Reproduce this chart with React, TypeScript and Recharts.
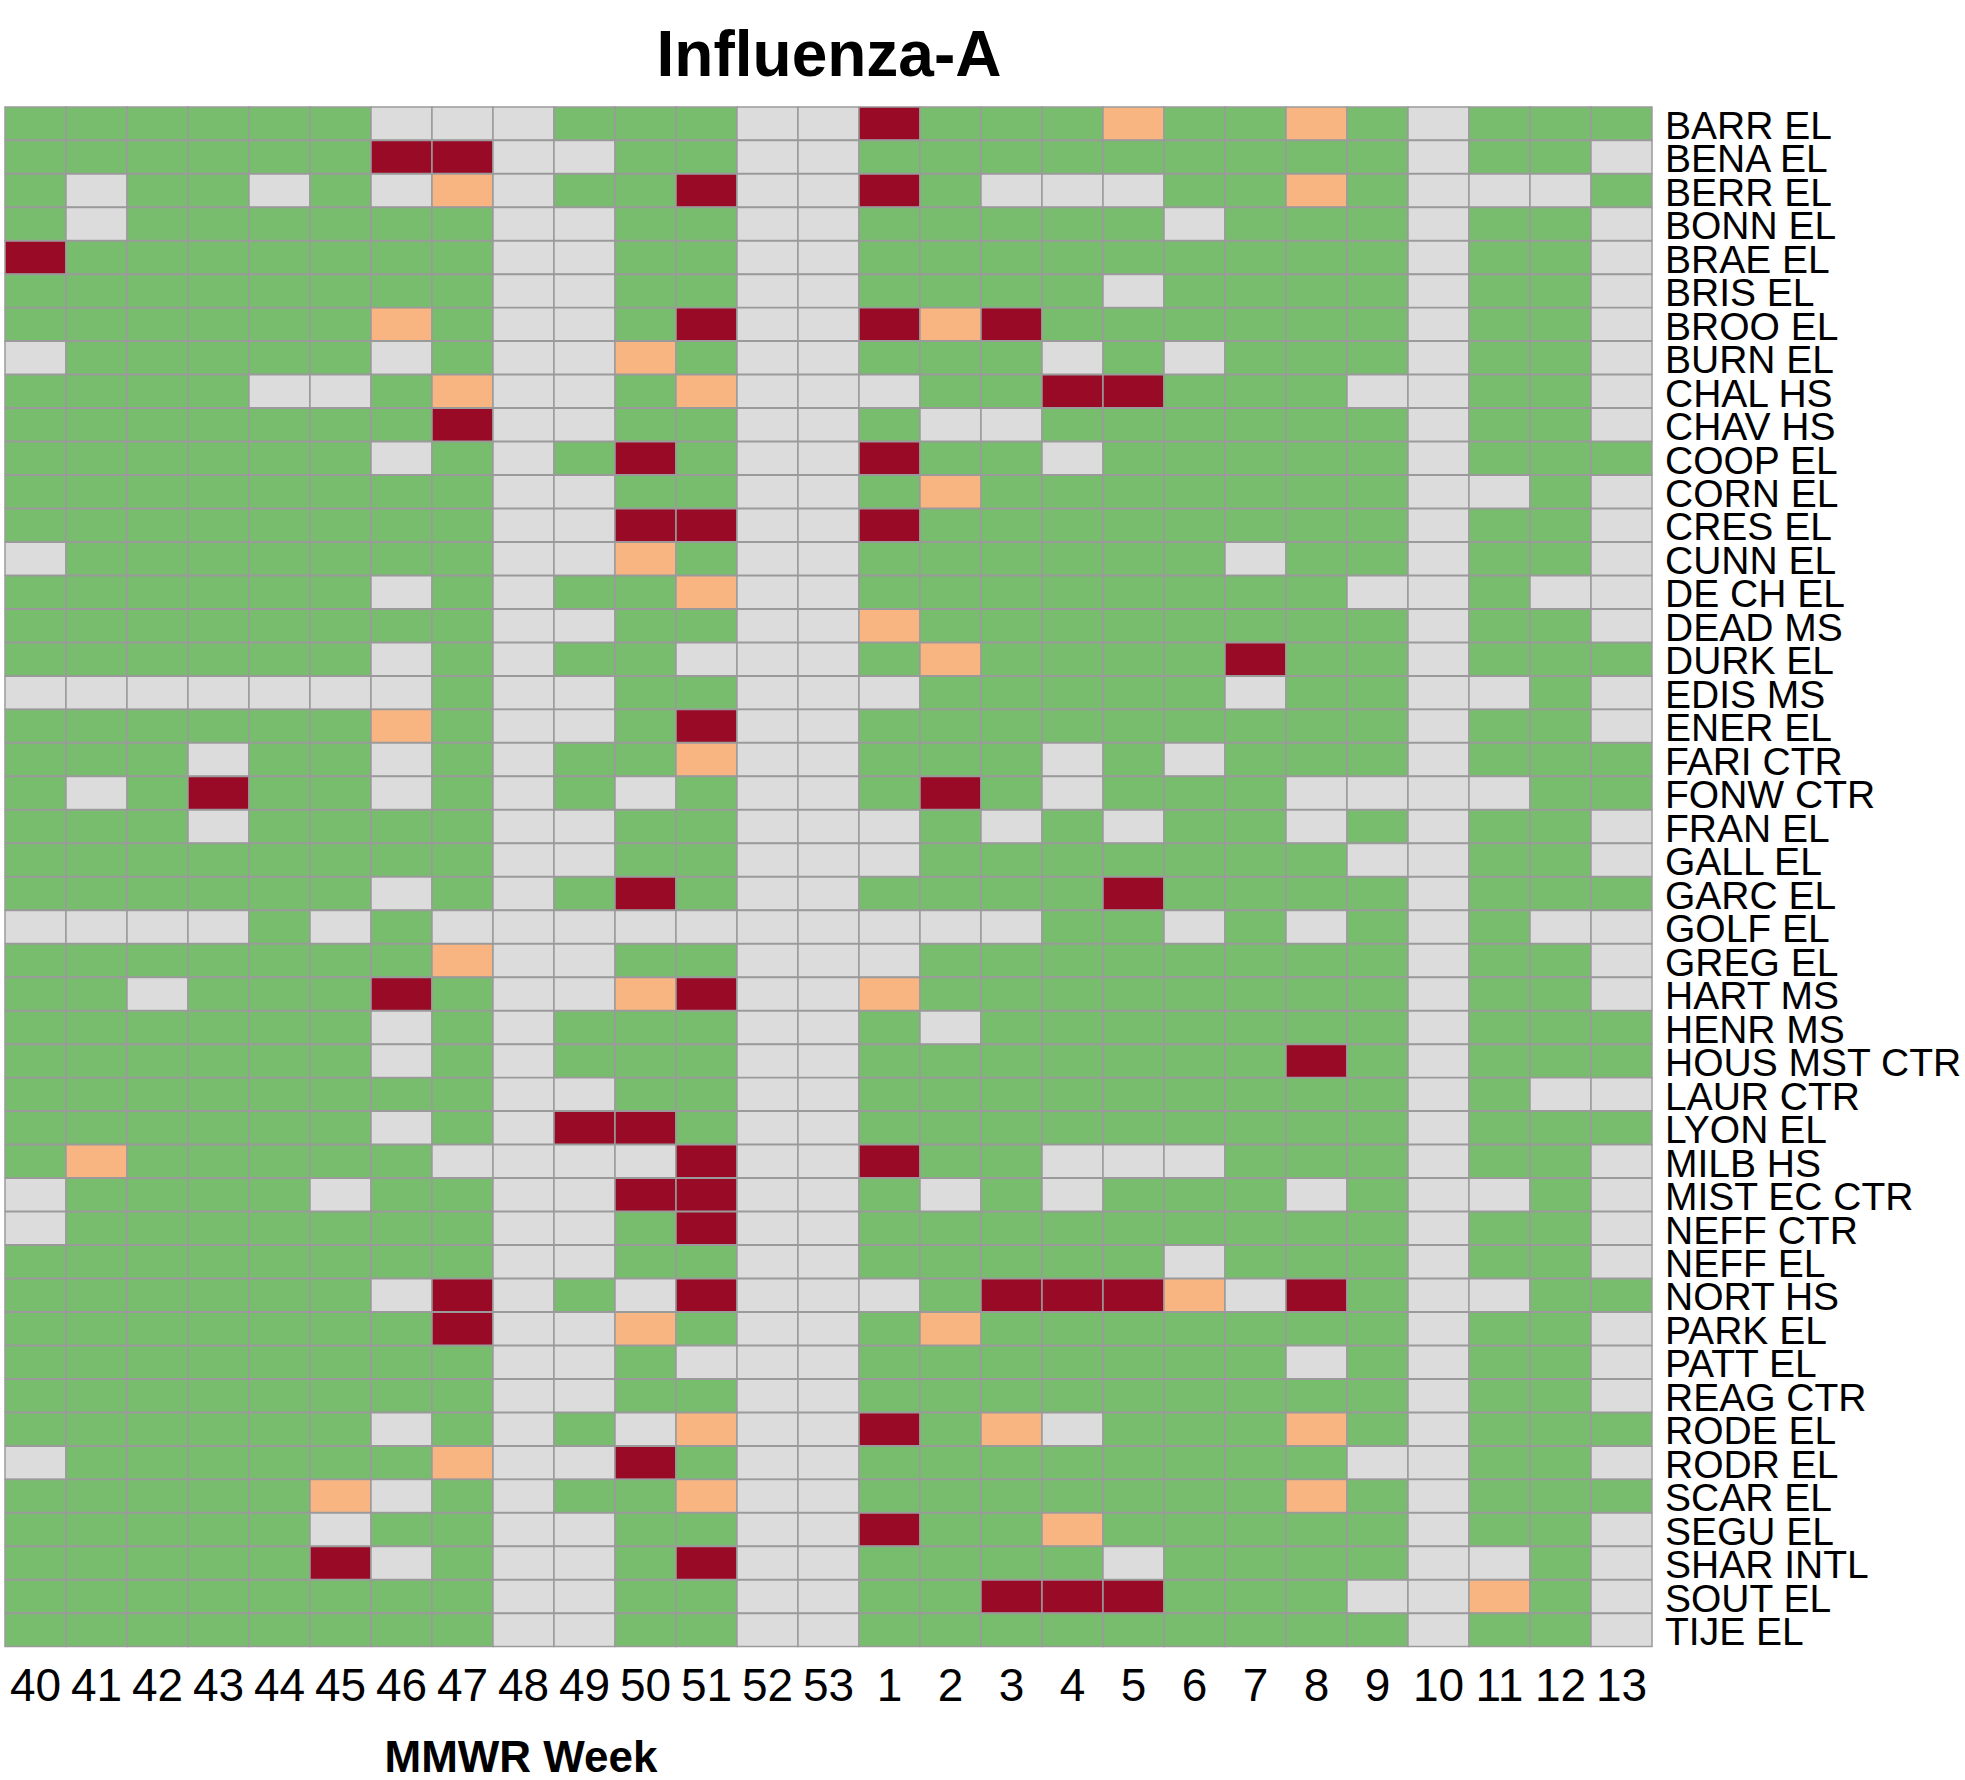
import { Bar, BarChart, Cell, XAxis, YAxis } from "recharts";

const weeks = [
  "40", "41", "42", "43", "44", "45", "46", "47", "48", "49", "50", "51", "52", "53",
  "1", "2", "3", "4", "5", "6", "7", "8", "9", "10", "11", "12", "13",
];

const schools = [
  "BARR EL", "BENA EL", "BERR EL", "BONN EL", "BRAE EL", "BRIS EL", "BROO EL",
  "BURN EL", "CHAL HS", "CHAV HS", "COOP EL", "CORN EL", "CRES EL", "CUNN EL",
  "DE CH EL", "DEAD MS", "DURK EL", "EDIS MS", "ENER EL", "FARI CTR", "FONW CTR",
  "FRAN EL", "GALL EL", "GARC EL", "GOLF EL", "GREG EL", "HART MS", "HENR MS",
  "HOUS MST CTR", "LAUR CTR", "LYON EL", "MILB HS", "MIST EC CTR", "NEFF CTR",
  "NEFF EL", "NORT HS", "PARK EL", "PATT EL", "REAG CTR", "RODE EL", "RODR EL",
  "SCAR EL", "SEGU EL", "SHAR INTL", "SOUT EL", "TIJE EL",
];

// one char per week: G = negative, O = low, R = high, X = no report
const status = [
  "GGGGGGXXXGGGXXRGGGOGGOGXGGG",
  "GGGGGGRRXXGGXXGGGGGGGGGXGGX",
  "GXGGXGXOXGGRXXRGXXXGGOGXXXG",
  "GXGGGGGGXXGGXXGGGGGXGGGXGGX",
  "RGGGGGGGXXGGXXGGGGGGGGGXGGX",
  "GGGGGGGGXXGGXXGGGGXGGGGXGGX",
  "GGGGGGOGXXGRXXRORGGGGGGXGGX",
  "XGGGGGXGXXOGXXGGGXGXGGGXGGX",
  "GGGGXXGOXXGOXXXGGRRGGGXXGGX",
  "GGGGGGGRXXGGXXGXXGGGGGGXGGX",
  "GGGGGGXGXGRGXXRGGXGGGGGXGGG",
  "GGGGGGGGXXGGXXGOGGGGGGGXXGX",
  "GGGGGGGGXXRRXXRGGGGGGGGXGGX",
  "XGGGGGGGXXOGXXGGGGGGXGGXGGX",
  "GGGGGGXGXGGOXXGGGGGGGGXXGXX",
  "GGGGGGGGXXGGXXOGGGGGGGGXGGX",
  "GGGGGGXGXGGXXXGOGGGGRGGXGGG",
  "XXXXXXXGXXGGXXXGGGGGXGGXXGX",
  "GGGGGGOGXXGRXXGGGGGGGGGXGGX",
  "GGGXGGXGXGGOXXGGGXGXGGGXGGG",
  "GXGRGGXGXGXGXXGRGXGGGXXXXGG",
  "GGGXGGGGXXGGXXXGXGXGGXGXGGX",
  "GGGGGGGGXXGGXXXGGGGGGGXXGGX",
  "GGGGGGXGXGRGXXGGGGRGGGGXGGG",
  "XXXXGXGXXXXXXXXXXGGXGXGXGXX",
  "GGGGGGGOXXGGXXXGGGGGGGGXGGX",
  "GGXGGGRGXXORXXOGGGGGGGGXGGX",
  "GGGGGGXGXGGGXXGXGGGGGGGXGGG",
  "GGGGGGXGXGGGXXGGGGGGGRGXGGG",
  "GGGGGGGGXXGGXXGGGGGGGGGXGXX",
  "GGGGGGXGXRRGXXGGGGGGGGGXGGG",
  "GOGGGGGXXXXRXXRGGXXXGGGXGGX",
  "XGGGGXGGXXRRXXGXGXGGGXGXXGX",
  "XGGGGGGGXXGRXXGGGGGGGGGXGGX",
  "GGGGGGGGXXGGXXGGGGGXGGGXGGX",
  "GGGGGGXRXGXRXXXGRRROXRGXXGG",
  "GGGGGGGRXXOGXXGOGGGGGGGXGGX",
  "GGGGGGGGXXGXXXGGGGGGGXGXGGX",
  "GGGGGGGGXXGGXXGGGGGGGGGXGGX",
  "GGGGGGXGXGXOXXRGOXGGGOGXGGG",
  "XGGGGGGOXXRGXXGGGGGGGGXXGGX",
  "GGGGGOXGXGGOXXGGGGGGGOGXGGG",
  "GGGGGXGGXXGGXXRGGOGGGGGXGGX",
  "GGGGGRXGXXGRXXGGGGXGGGGXXGX",
  "GGGGGGGGXXGGXXGGRRRGGGXXOGX",
  "GGGGGGGGXXGGXXGGGGGGGGGXGGX",
];

const palette: Record<string, string> = {
  G: "#78bc6e",
  O: "#f8b481",
  R: "#990a27",
  X: "#dcdcdc",
};

const chartData = schools.map((name) => {
  const row: Record<string, string | number> = { name };
  weeks.forEach((_, j) => {
    row[`w${j}`] = 1;
  });
  return row;
});

const font = "'Liberation Sans', Arial, sans-serif";

function WeekTick({ x, y, payload }: any) {
  return (
    <text x={x} y={y + 52} textAnchor="middle" fontSize={46} fontFamily={font} fill="#000">
      {weeks[Math.floor(payload.value)]}
    </text>
  );
}

function SchoolTick({ x, y, payload }: any) {
  return (
    <text x={x + 11} y={y + 15} textAnchor="start" fontSize={39} fontFamily={font} fill="#000">
      {payload.value}
    </text>
  );
}

export default function App() {
  return (
    <div
      style={{
        position: "absolute",
        left: 0,
        top: 0,
        width: 1965,
        height: 1780,
        background: "#fff",
      }}
    >
      <BarChart
        width={1965}
        height={1780}
        data={chartData}
        layout="vertical"
        barCategoryGap={0}
        barGap={0}
        margin={{ top: 107, right: 0, bottom: 0, left: 5 }}
      >
        <XAxis
          type="number"
          domain={[0, weeks.length]}
          ticks={weeks.map((_, i) => i + 0.5)}
          interval={0}
          tick={<WeekTick />}
          tickLine={false}
          axisLine={false}
          tickSize={0}
          height={133}
        />
        <YAxis
          type="category"
          dataKey="name"
          orientation="right"
          width={313}
          interval={0}
          tick={<SchoolTick />}
          tickLine={false}
          axisLine={false}
          tickSize={0}
        />
        {weeks.map((_, j) => (
          <Bar
            key={j}
            dataKey={`w${j}`}
            stackId="grid"
            stroke="#9a9a9a"
            strokeWidth={1.5}
            isAnimationActive={false}
          >
            {status.map((codes, i) => (
              <Cell key={i} fill={palette[codes[j]]} />
            ))}
          </Bar>
        ))}
      </BarChart>
      <svg
        width={1965}
        height={1780}
        style={{ position: "absolute", left: 0, top: 0, pointerEvents: "none" }}
      >
        <text x={829} y={76} textAnchor="middle" fontSize={64} fontWeight="bold" fontFamily={font} fill="#000">
          Influenza-A
        </text>
        <text x={521} y={1772} textAnchor="middle" fontSize={44} fontWeight="bold" fontFamily={font} fill="#000">
          MMWR Week
        </text>
      </svg>
    </div>
  );
}
